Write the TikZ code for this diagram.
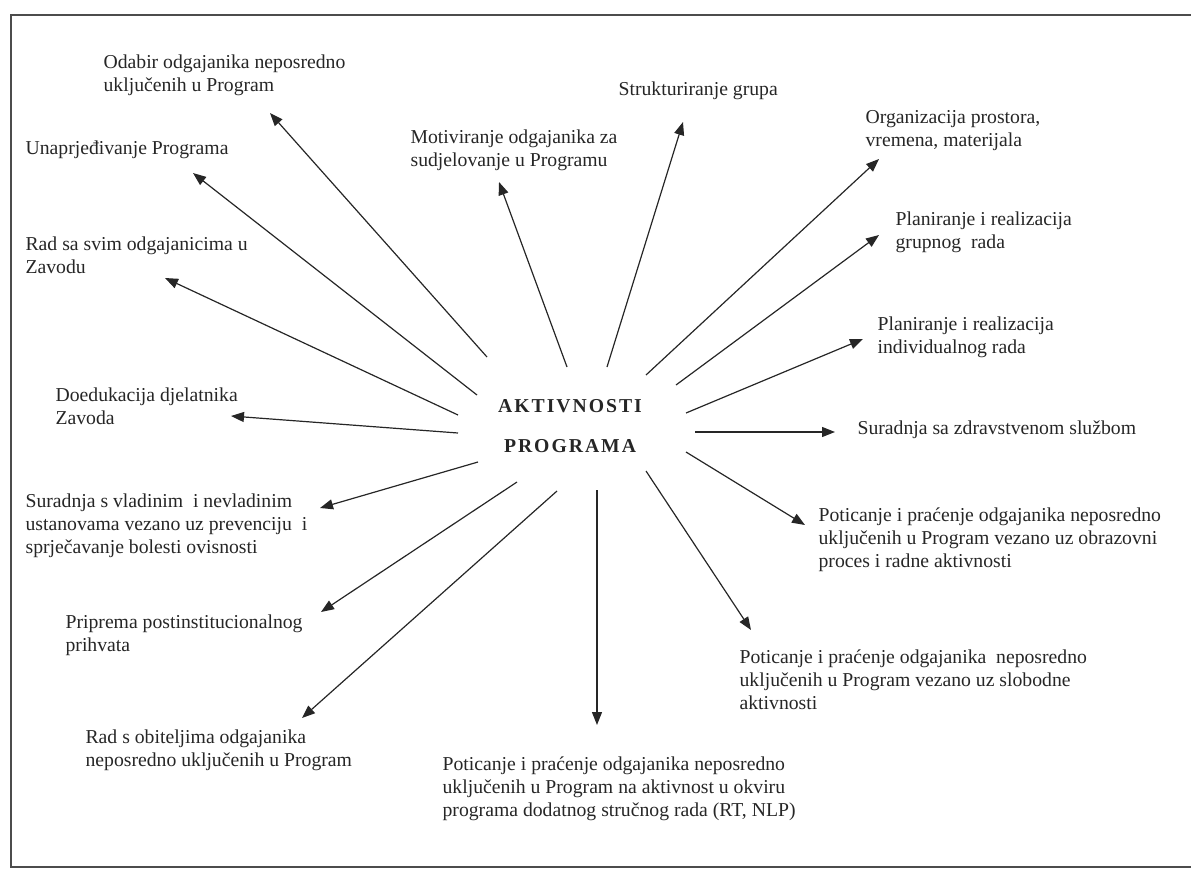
\documentclass[tikz,border=0pt]{standalone}
\usepackage{fontspec}
\setmainfont{Liberation Serif}
\usetikzlibrary{arrows.meta}
\newcommand{\lblsize}{\fontsize{19.7}{23}\selectfont}
\newcommand{\hubsize}{\fontsize{19.7}{40}\selectfont\bfseries\addfontfeatures{LetterSpace=10}}
\begin{document}
\begin{tikzpicture}[x=1pt,y=-1pt,>={Triangle[length=13pt,width=10pt]},line width=1.2pt,draw=black!85,
        every node/.style={inner sep=0pt,text=black!85},
        lbl/.style={anchor=north west,align=left,font=\lblsize},
        hub/.style={align=center,font=\hubsize}]
                \useasboundingbox (0,0) rectangle (1191,868);
                \draw[line width=2pt,black!70] (11,15) rectangle (1210,867);

                \node[hub] (hub) at (570,426) {AKTIVNOSTI\\PROGRAMA};

                \node[lbl] (odabir) at (103,54) {Odabir odgajanika neposredno\\uključenih u Program}; \node[lbl] (motiv) at (410,129) {Motiviranje odgajanika za\\sudjelovanje u Programu};
                \node[lbl] (unapr) at (25,140) {Unaprjeđivanje Programa}; \node[lbl] (strukt) at (618,81) {Strukturiranje grupa};
                \node[lbl] (radsvim) at (25,236) {Rad sa svim odgajanicima u\\Zavodu}; \node[lbl] (organ) at (865,110) {Organizacija prostora,\\vremena, materijala};
                \node[lbl] (doedu) at (55,387) {Doedukacija djelatnika\\Zavoda}; \node[lbl] (grupni) at (895,211) {Planiranje i realizacija\\grupnog~ rada};
                \node[lbl] (vlada) at (25,493) {Suradnja s vladinim~ i nevladinim\\ustanovama vezano uz prevenciju~ i\\sprječavanje bolesti ovisnosti}; \node[lbl] (indiv) at (877,316) {Planiranje i realizacija\\individualnog rada};
                \node[lbl] (pripr) at (65,614) {Priprema postinstitucionalnog\\prihvata}; \node[lbl] (zdrav) at (857,420) {Suradnja sa zdravstvenom službom};
                \node[lbl] (obitelj) at (85,729) {Rad s obiteljima odgajanika\\neposredno uključenih u Program}; \node[lbl] (obraz) at (818,507) {Poticanje i praćenje odgajanika neposredno\\uključenih u Program vezano uz obrazovni\\proces i radne aktivnosti};
                \node[lbl] (dodat) at (442,756) {Poticanje i praćenje odgajanika neposredno\\uključenih u Program na aktivnost u okviru\\programa dodatnog stručnog rada (RT, NLP)}; \node[lbl] (slobod) at (739,649) {Poticanje i praćenje odgajanika~ neposredno\\uključenih u Program vezano uz slobodne\\aktivnosti};

                % arrow ends round the hub and at the tips
                \coordinate (h-odabir) at (487,357); \coordinate (t-odabir) at (270,113);
                \coordinate (h-unapr) at (477,395); \coordinate (t-unapr) at (193,173);
                \coordinate (h-radsvim) at (458,415); \coordinate (t-radsvim) at (165,278);
                \coordinate (h-doedu) at (458,433); \coordinate (t-doedu) at (231,416);
                \coordinate (h-vlada) at (478,462); \coordinate (t-vlada) at (320,508);
                \coordinate (h-pripr) at (517,482); \coordinate (t-pripr) at (321,612);
                \coordinate (h-obitelj) at (557,491); \coordinate (t-obitelj) at (302,718);
                \coordinate (h-dodat) at (597,490); \coordinate (t-dodat) at (597,725);
                \coordinate (h-slobod) at (646,471); \coordinate (t-slobod) at (751,630);
                \coordinate (h-obraz) at (686,452); \coordinate (t-obraz) at (805,525);
                \coordinate (h-zdrav) at (695,432); \coordinate (t-zdrav) at (835,432);
                \coordinate (h-indiv) at (686,413); \coordinate (t-indiv) at (863,339);
                \coordinate (h-grupni) at (676,385); \coordinate (t-grupni) at (879,235);
                \coordinate (h-organ) at (646,375); \coordinate (t-organ) at (879,159);
                \coordinate (h-strukt) at (607,367); \coordinate (t-strukt) at (683,122);
                \coordinate (h-motiv) at (567,367); \coordinate (t-motiv) at (499,182);

                \draw[->] (h-odabir) to (t-odabir); \draw[->] (h-unapr) to (t-unapr); \draw[->] (h-radsvim) to (t-radsvim); \draw[->] (h-doedu) to (t-doedu);
                \draw[->] (h-vlada) to (t-vlada); \draw[->] (h-pripr) to (t-pripr); \draw[->] (h-obitelj) to (t-obitelj); \draw[->] (h-dodat) to (t-dodat);
                \draw[->] (h-slobod) to (t-slobod); \draw[->] (h-obraz) to (t-obraz); \draw[->] (h-zdrav) to (t-zdrav); \draw[->] (h-indiv) to (t-indiv);
                \draw[->] (h-grupni) to (t-grupni); \draw[->] (h-organ) to (t-organ); \draw[->] (h-strukt) to (t-strukt); \draw[->] (h-motiv) to (t-motiv);
            \end{tikzpicture}
\end{document}
